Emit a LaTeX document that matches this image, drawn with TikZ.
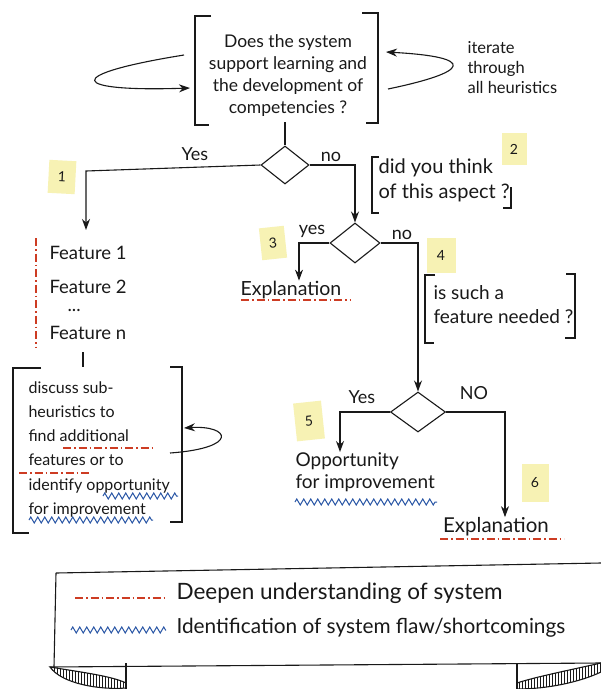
\documentclass[tikz,border=0pt]{standalone}
\usepackage{fontspec}
\setmainfont{Lato}
\usetikzlibrary{shapes.geometric,arrows.meta,decorations.pathmorphing,patterns}
\definecolor{ink}{RGB}{25,25,25}
\definecolor{penred}{RGB}{205,60,35}
\definecolor{penblue}{RGB}{40,85,165}
\definecolor{stickyyel}{RGB}{247,242,180}
\begin{document}
\begin{tikzpicture}[x=1pt,y=-1pt,line width=1.1pt,
  >={Stealth[length=11pt,width=8pt]},
  txt/.style={font=\fontsize{17.5}{22}\selectfont, inner sep=0pt, text=ink},
  bigtxt/.style={font=\fontsize{18.5}{22}\selectfont, inner sep=0pt, text=ink},
  lbl/.style={font=\fontsize{18}{20}\selectfont, inner sep=0pt, text=ink},
  legtxt/.style={inner sep=0pt, text=ink, anchor=west},
  dia/.style={diamond, draw=ink, inner sep=0pt},
  stickynote/.style={fill=stickyyel, draw=none, inner sep=0pt, font=\fontsize{14}{14}\selectfont, text=ink},
  brk/.style={draw=ink, line width=1.1pt},
  conn/.style={draw=ink, line width=1.1pt},
  redul/.style={draw=penred, line width=1.2pt, dash pattern=on 8pt off 3pt on 1.5pt off 3pt},
  blueul/.style={draw=penblue, line width=1pt, decorate, decoration={zigzag, segment length=7pt, amplitude=3pt}}
]
\useasboundingbox (0,0) rectangle (601,689);
\fill[white] (0,0) rectangle (601,689);

% ---------- top question box ----------
\node[txt, align=center] (q1) at (288,76) {Does the system\\support learning and\\the development of\\competencies ?};
\draw[brk] (211,16) -- (195,16) -- (195,125) -- (209,125);
\draw[brk] (362,13) -- (378,13) -- (378,123) -- (366,123);
\coordinate (q1w) at (190,88);
\coordinate (q1wa) at (184,55);
\coordinate (q1e) at (388,89);
\coordinate (q1ea) at (386,52);
\coordinate (q1s) at (285,122);
\draw[conn,->] (q1wa) .. controls (60,75) and (70,92) .. (q1w);
\draw[conn,->] (q1e) .. controls (470,72) and (478,57) .. (q1ea);
\node[txt, align=left, anchor=north west, font=\fontsize{16.5}{20}\selectfont] (iter) at (467,41) {iterate\\through\\all heuristics};

% ---------- diamond 1 ----------
\node[dia, minimum width=48pt, minimum height=38pt] (d1) at (285,165) {};
\draw[conn] (q1s) -- (d1.north);
\node[lbl] (yes1) at (195,154) {Yes};
\node[lbl] (no1) at (331,157) {no};
\coordinate (fa) at (86,230);
\coordinate (c1) at (86,171);
\draw[conn,->] (d1.west) -- (c1) -- (fa);

% sticky notes
\node[stickynote, minimum width=27pt, minimum height=33pt, rotate=-3] (s1) at (62,177) {1};
\node[stickynote, minimum width=25pt, minimum height=32pt] (s2) at (514,149) {2};
\node[stickynote, minimum width=25pt, minimum height=32pt, rotate=6] (s3) at (273,243) {3};
\node[stickynote, minimum width=29pt, minimum height=35pt] (s4) at (441,255) {4};
\node[stickynote, minimum width=28pt, minimum height=38pt, rotate=6] (s5) at (309,421) {5};
\node[stickynote, minimum width=27pt, minimum height=38pt] (s6) at (535,483) {6};

% did you think
\node[txt, align=left, anchor=north west, font=\fontsize{20}{25}\selectfont] (q2) at (378,158) {did you think\\of this aspect ?};
\draw[brk] (379,157) -- (372,157) -- (372,213) -- (379,213);
\draw[brk] (511,187) -- (511,208) -- (503,208);

% ---------- diamond 2 ----------
\node[dia, minimum width=50pt, minimum height=40pt] (d2) at (355,243) {};
\coordinate (c2) at (355,165);
\draw[conn,->] (d1.east) -- (c2) -- (d2.north);
\node[lbl] (yes2) at (312,231) {yes};
\node[lbl] (no2) at (402,235) {no};
\node[txt, font=\fontsize{19.5}{22}\selectfont] (ex1) at (291,290) {Explanation};
\coordinate (c3) at (299,243);
\draw[conn,->] (d2.west) -- (c3) -- (c3 |- ex1.north);
\draw[redul] (241,300) -- (350,300);

% is such a feature needed
\node[txt, align=left, anchor=north west, font=\fontsize{19}{24}\selectfont] (q3) at (433,285) {is such a\\feature needed ?};
\draw[brk] (435,275) -- (425,275) -- (425,343) -- (434,343);
\draw[brk] (566,274) -- (575,274) -- (575,338) -- (565,338);

% ---------- diamond 3 ----------
\node[dia, minimum width=55pt, minimum height=40pt] (d3) at (418,412) {};
\coordinate (c4) at (418,243);
\draw[conn,->] (d2.east) -- (c4) -- (d3.north);
\node[lbl] (yes3) at (362,397) {Yes};
\node[lbl] (no3) at (474,393) {NO};
\node[txt, align=left, anchor=north west, font=\fontsize{19}{22}\selectfont] (opp) at (295,452) {Opportunity\\for improvement};
\coordinate (c5) at (340,412);
\draw[conn,->] (d3.west) -- (c5) -- (c5 |- opp.north);
\draw[blueul] (295,502) -- (437,502);
\node[txt, font=\fontsize{20.5}{22}\selectfont] (ex2) at (496,527) {Explanation};
\coordinate (c6) at (505,412);
\draw[conn,->] (d3.east) -- (c6) -- (c6 |- ex2.north);
\draw[redul] (440,539) -- (564,539);

% ---------- features list ----------
\node[bigtxt, anchor=west] (fe1) at (49,253) {Feature 1};
\node[bigtxt, anchor=west] (fe2) at (49,287) {Feature 2};
\node[bigtxt, anchor=west] (fed) at (67,310) {...};
\node[bigtxt, anchor=west] (fen) at (49,333) {Feature n};
\draw[redul] (36,238) -- (36,347);
\coordinate (fl) at (83,367);
\coordinate (fl0) at (83,352);
\draw[conn] (fl0) -- (fl);

% discuss box
\node[txt, align=left, anchor=north west, font=\fontsize{16}{24.2}\selectfont] (disc) at (28,381) {discuss sub-\\heuristics to\\find additional\\features or to\\identify opportunity\\for improvement};
\draw[brk] (41,368) -- (13,368) -- (13,533) -- (29,533);
\draw[brk] (170,367) -- (182,367) -- (182,522) -- (170,522);
\draw[redul] (63,448) -- (153,448);
\draw[redul] (19,473) -- (90,473);
\draw[blueul] (103,496) -- (178,496);
\draw[blueul] (29,520) -- (153,520);
\coordinate (dl1) at (170,453);
\coordinate (dl2) at (184,428);
\draw[conn,->] (dl1) .. controls (240,448) and (230,425) .. (dl2);

% ---------- legend scroll ----------
\draw[conn] (56,573) -- (601,563);
\draw[conn] (56,573) -- (54,667);
\draw[conn] (50,667) -- (601,663);
\draw[conn, pattern=vertical lines, pattern color=ink] (50,667) .. controls (80,672) and (112,676) .. (126,683) -- (126,688) .. controls (100,690) and (62,684) .. (50,667) -- cycle;
\draw[conn] (126,663) -- (126,689);
\draw[conn, pattern=vertical lines, pattern color=ink] (601,663) .. controls (570,670) and (535,677) .. (517,683) -- (517,689) .. controls (548,689) and (580,682) .. (601,672) -- cycle;
\draw[conn] (517,663) -- (517,689);
\coordinate (lr1) at (75,598);
\coordinate (lr2) at (165,598);
\draw[redul] (lr1) -- (lr2);
\node[legtxt, font=\fontsize{22.5}{24}\selectfont] (leg1) at (176,593) {Deepen understanding of system};
\coordinate (lb1) at (71,630);
\coordinate (lb2) at (166,630);
\draw[blueul] (lb1) -- (lb2);
\node[legtxt, font=\fontsize{20.8}{24}\selectfont] (leg2) at (176,628) {Identification of system flaw/shortcomings};
\end{tikzpicture}
\end{document}
